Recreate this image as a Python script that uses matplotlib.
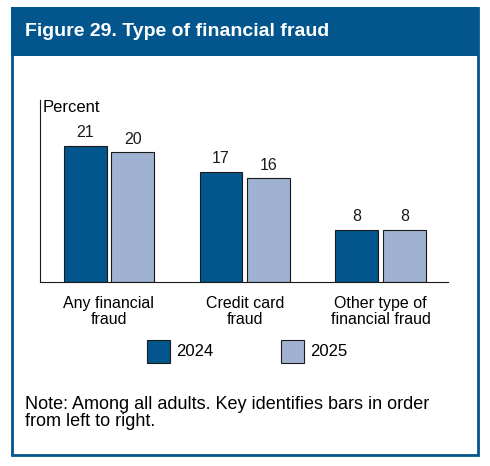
import matplotlib.pyplot as plt
from matplotlib.patches import Rectangle
import numpy as np

categories = ["Any financial\nfraud", "Credit card\nfraud", "Other type of\nfinancial fraud"]
years = ["2024", "2025"]
values_2024 = [21, 17, 8]
values_2025 = [20, 16, 8]

DARK = "#02568D"
LIGHT = "#A0B2D1"
W, H = 490, 466

narrow = ["Liberation Sans Narrow", "Liberation Sans", "DejaVu Sans"]

fig = plt.figure(figsize=(4.9, 4.66), dpi=100)

def fx(px):
    return px / W

def fy(py):
    return 1 - py / H

# frame and header band
fig.patches.append(Rectangle((fx(12), fy(455)), fx(466), (455 - 8) / H, transform=fig.transFigure,
                             facecolor="white", edgecolor=DARK, lw=2, zorder=-2))
fig.patches.append(Rectangle((fx(11), fy(56)), fx(468), (56 - 7) / H, transform=fig.transFigure,
                             facecolor=DARK, edgecolor="none", zorder=1))
fig.text(fx(25), fy(31), "Figure 29. Type of financial fraud", color="white", fontsize=14,
         fontweight="bold", family="Liberation Sans", va="center", ha="left")

ax = fig.add_axes([fx(40), fy(282), fx(448 - 40), (282 - 100) / H])
x = np.arange(len(categories))
bw = 0.316
off = 0.175
b1 = ax.bar(x - off, values_2024, bw, color=DARK, edgecolor="#1a1a1a", lw=0.8)
b2 = ax.bar(x + off, values_2025, bw, color=LIGHT, edgecolor="#1a1a1a", lw=0.8)
for bars in (b1, b2):
    for r in bars:
        ax.text(r.get_x() + r.get_width() / 2, r.get_height() + 0.9, f"{r.get_height():g}",
                ha="center", va="bottom", fontsize=11.5, family=narrow, color="#1a1a1a")

ax.set_xlim(-0.507, 2.496)
ax.set_ylim(0, 28.1)
ax.spines["top"].set_visible(False)
ax.spines["right"].set_visible(False)
ax.spines["left"].set_color("#1a1a1a")
ax.spines["bottom"].set_color("#1a1a1a")
ax.set_yticks([])
ax.set_xticks(x)
ax.set_xticklabels(categories, fontsize=11.5, family=narrow, linespacing=1.1)
ax.tick_params(axis="x", length=0, pad=10)
ax.patch.set_alpha(0)

fig.text(fx(43), fy(108), "Percent", fontsize=12, family=narrow, va="center", ha="left")

# legend
for px, col, lab in [(147, DARK, years[0]), (281, LIGHT, years[1])]:
    fig.patches.append(Rectangle((fx(px), fy(363)), fx(23), 23 / H, transform=fig.transFigure,
                                 facecolor=col, edgecolor="#1a1a1a", lw=0.8))
    fig.text(fx(px + 29), fy(352), lab, fontsize=12, family=narrow, va="center", ha="left")

fig.text(fx(25), fy(413), "Note: Among all adults. Key identifies bars in order\nfrom left to right.",
         fontsize=13, family="Liberation Sans", va="center", ha="left", linespacing=1.05)

fig.savefig("out.png", dpi=100)
